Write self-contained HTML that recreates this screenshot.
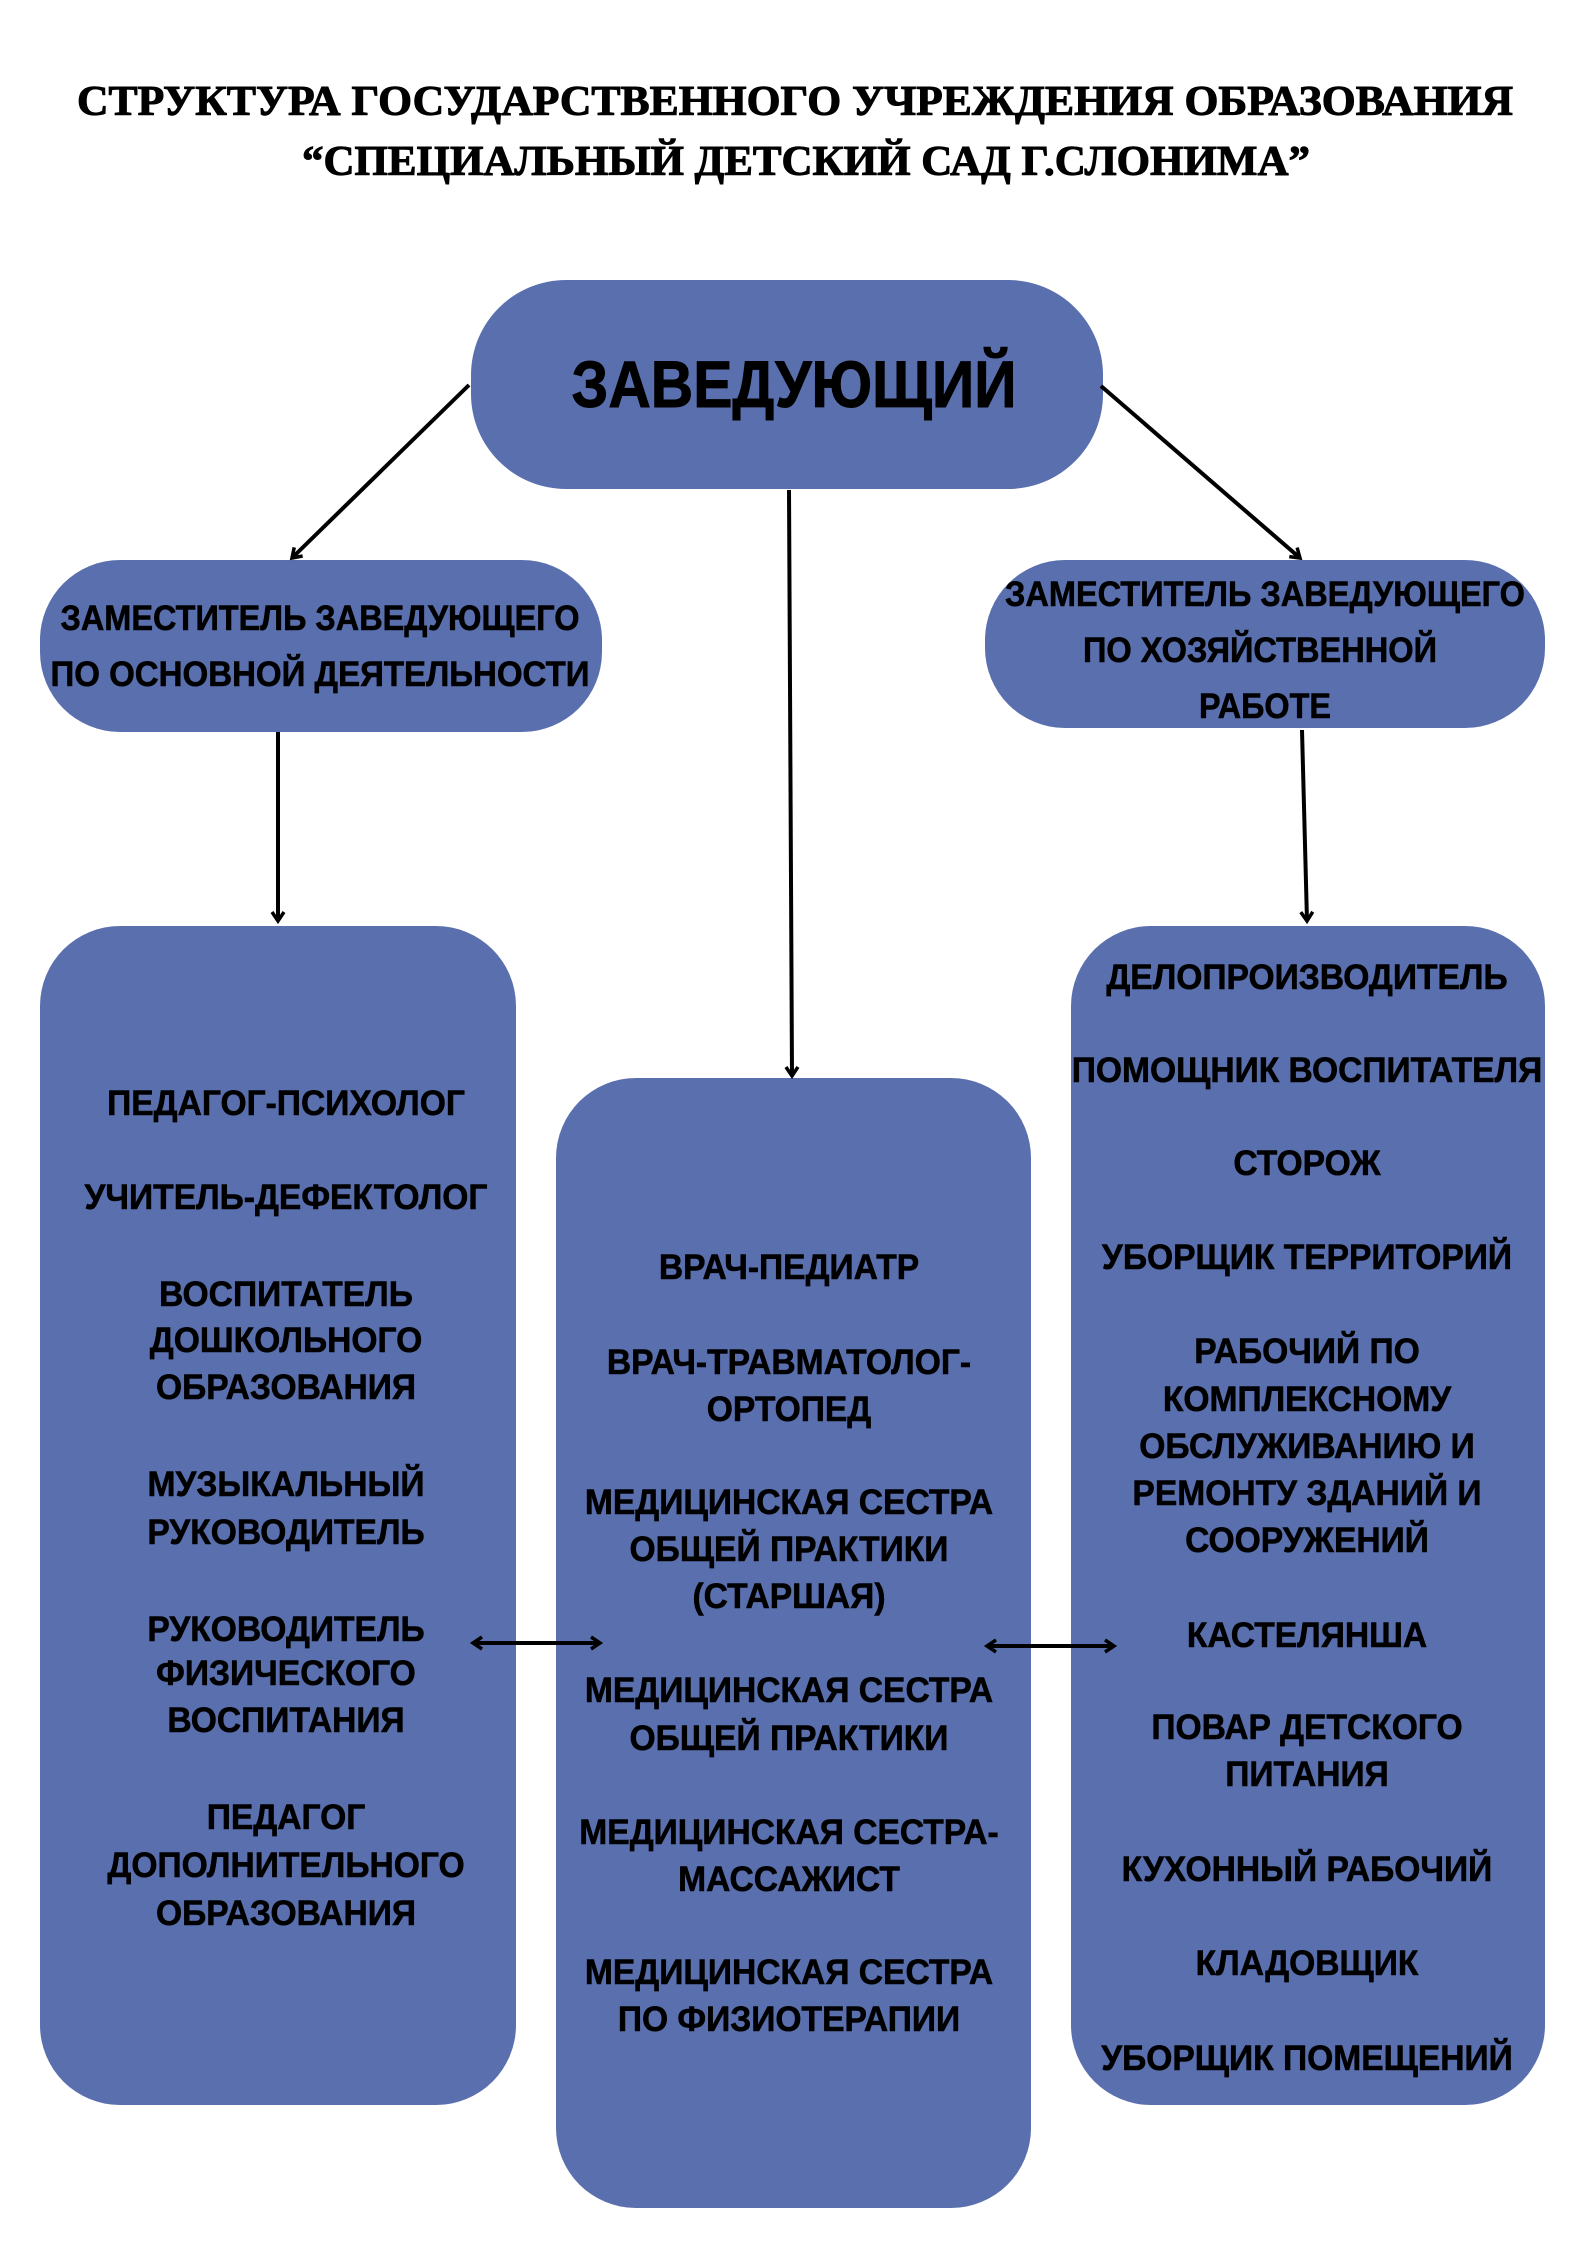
<!DOCTYPE html>
<html><head><meta charset="utf-8"><style>
html,body{margin:0;padding:0;background:#fff;}
svg{display:block;}
.h{font-family:"Liberation Sans","DejaVu Sans",sans-serif;font-weight:bold;font-size:35px;fill:#000;stroke:#000;stroke-width:0.6px;}
.t{font-family:"Liberation Serif","DejaVu Serif",serif;font-weight:bold;font-size:42px;fill:#000;stroke:#000;stroke-width:1px;}
</style></head><body>
<svg width="1587" height="2245" viewBox="0 0 1587 2245" xmlns="http://www.w3.org/2000/svg">
<defs>
<marker id="a" markerWidth="16" markerHeight="16" refX="11" refY="8" orient="auto" markerUnits="userSpaceOnUse">
<path d="M2,2 L11,8 L2,14" fill="none" stroke="#000" stroke-width="3.5"/>
</marker>
<marker id="b" markerWidth="16" markerHeight="16" refX="5" refY="8" orient="auto" markerUnits="userSpaceOnUse">
<path d="M14,2 L5,8 L14,14" fill="none" stroke="#000" stroke-width="3.5"/>
</marker>
</defs>
<text class="t" x="795" y="115" text-anchor="middle" textLength="1436" lengthAdjust="spacingAndGlyphs">СТРУКТУРА ГОСУДАРСТВЕННОГО УЧРЕЖДЕНИЯ ОБРАЗОВАНИЯ</text>
<text class="t" x="806" y="175" text-anchor="middle" textLength="1008" lengthAdjust="spacingAndGlyphs">“СПЕЦИАЛЬНЫЙ ДЕТСКИЙ САД Г.СЛОНИМА”</text>

<g fill="#5a6fae">
<rect x="471" y="280" width="632" height="209" rx="95"/>
<rect x="40" y="560" width="562" height="172" rx="80"/>
<rect x="985" y="560" width="560" height="168" rx="80"/>
<rect x="40" y="926" width="476" height="1179" rx="80"/>
<rect x="556" y="1078" width="475" height="1130" rx="80"/>
<rect x="1071" y="926" width="474" height="1179" rx="80"/>
</g>

<g stroke="#000" stroke-width="4" fill="none">
<line x1="469" y1="385" x2="292" y2="558" marker-end="url(#a)"/>
<line x1="1101" y1="386" x2="1300" y2="558" marker-end="url(#a)"/>
<line x1="789" y1="490" x2="792" y2="1076" marker-end="url(#a)"/>
<line x1="278" y1="732" x2="278" y2="921" marker-end="url(#a)"/>
<line x1="1302" y1="730" x2="1307" y2="921" marker-end="url(#a)"/>
<line x1="473" y1="1643" x2="600" y2="1643" marker-start="url(#b)" marker-end="url(#a)"/>
<line x1="987" y1="1646" x2="1114" y2="1646" marker-start="url(#b)" marker-end="url(#a)"/>
</g>

<text class="h" x="794" y="407" text-anchor="middle" style="font-size:66px;stroke-width:1px" textLength="445" lengthAdjust="spacingAndGlyphs">ЗАВЕДУЮЩИЙ</text>
<text class="h" x="320" y="630" text-anchor="middle" textLength="519" lengthAdjust="spacingAndGlyphs">ЗАМЕСТИТЕЛЬ ЗАВЕДУЮЩЕГО</text>
<text class="h" x="320" y="686" text-anchor="middle" textLength="539" lengthAdjust="spacingAndGlyphs">ПО ОСНОВНОЙ ДЕЯТЕЛЬНОСТИ</text>
<text class="h" x="1265" y="606" text-anchor="middle" textLength="520" lengthAdjust="spacingAndGlyphs">ЗАМЕСТИТЕЛЬ ЗАВЕДУЮЩЕГО</text>
<text class="h" x="1260" y="662" text-anchor="middle" textLength="354" lengthAdjust="spacingAndGlyphs">ПО ХОЗЯЙСТВЕННОЙ</text>
<text class="h" x="1265" y="718" text-anchor="middle" textLength="132" lengthAdjust="spacingAndGlyphs">РАБОТЕ</text>

<g transform="translate(286,0) scale(0.96,1)">
<g class="h" text-anchor="middle">
<text x="0" y="1115">ПЕДАГОГ-ПСИХОЛОГ</text>
<text x="0" y="1209">УЧИТЕЛЬ-ДЕФЕКТОЛОГ</text>
<text x="0" y="1306">ВОСПИТАТЕЛЬ</text>
<text x="0" y="1352">ДОШКОЛЬНОГО</text>
<text x="0" y="1399">ОБРАЗОВАНИЯ</text>
<text x="0" y="1496">МУЗЫКАЛЬНЫЙ</text>
<text x="0" y="1544">РУКОВОДИТЕЛЬ</text>
<text x="0" y="1641">РУКОВОДИТЕЛЬ</text>
<text x="0" y="1685">ФИЗИЧЕСКОГО</text>
<text x="0" y="1732">ВОСПИТАНИЯ</text>
<text x="0" y="1829">ПЕДАГОГ</text>
<text x="0" y="1877">ДОПОЛНИТЕЛЬНОГО</text>
<text x="0" y="1925">ОБРАЗОВАНИЯ</text>
</g></g>

<g transform="translate(789,0) scale(0.96,1)">
<g class="h" text-anchor="middle">
<text x="0" y="1279">ВРАЧ-ПЕДИАТР</text>
<text x="0" y="1374">ВРАЧ-ТРАВМАТОЛОГ-</text>
<text x="0" y="1421">ОРТОПЕД</text>
<text x="0" y="1514">МЕДИЦИНСКАЯ СЕСТРА</text>
<text x="0" y="1561">ОБЩЕЙ ПРАКТИКИ</text>
<text x="0" y="1608">(СТАРШАЯ)</text>
<text x="0" y="1702">МЕДИЦИНСКАЯ СЕСТРА</text>
<text x="0" y="1750">ОБЩЕЙ ПРАКТИКИ</text>
<text x="0" y="1844">МЕДИЦИНСКАЯ СЕСТРА-</text>
<text x="0" y="1891">МАССАЖИСТ</text>
<text x="0" y="1984">МЕДИЦИНСКАЯ СЕСТРА</text>
<text x="0" y="2031">ПО ФИЗИОТЕРАПИИ</text>
</g></g>

<g transform="translate(1307,0) scale(0.96,1)">
<g class="h" text-anchor="middle">
<text x="0" y="989">ДЕЛОПРОИЗВОДИТЕЛЬ</text>
<text x="0" y="1082">ПОМОЩНИК ВОСПИТАТЕЛЯ</text>
<text x="0" y="1175">СТОРОЖ</text>
<text x="0" y="1269">УБОРЩИК ТЕРРИТОРИЙ</text>
<text x="0" y="1363">РАБОЧИЙ ПО</text>
<text x="0" y="1411">КОМПЛЕКСНОМУ</text>
<text x="0" y="1458">ОБСЛУЖИВАНИЮ И</text>
<text x="0" y="1505">РЕМОНТУ ЗДАНИЙ И</text>
<text x="0" y="1552">СООРУЖЕНИЙ</text>
<text x="0" y="1647">КАСТЕЛЯНША</text>
<text x="0" y="1739">ПОВАР ДЕТСКОГО</text>
<text x="0" y="1786">ПИТАНИЯ</text>
<text x="0" y="1881">КУХОННЫЙ РАБОЧИЙ</text>
<text x="0" y="1975">КЛАДОВЩИК</text>
<text x="0" y="2070">УБОРЩИК ПОМЕЩЕНИЙ</text>
</g></g>
</svg>
</body></html>
